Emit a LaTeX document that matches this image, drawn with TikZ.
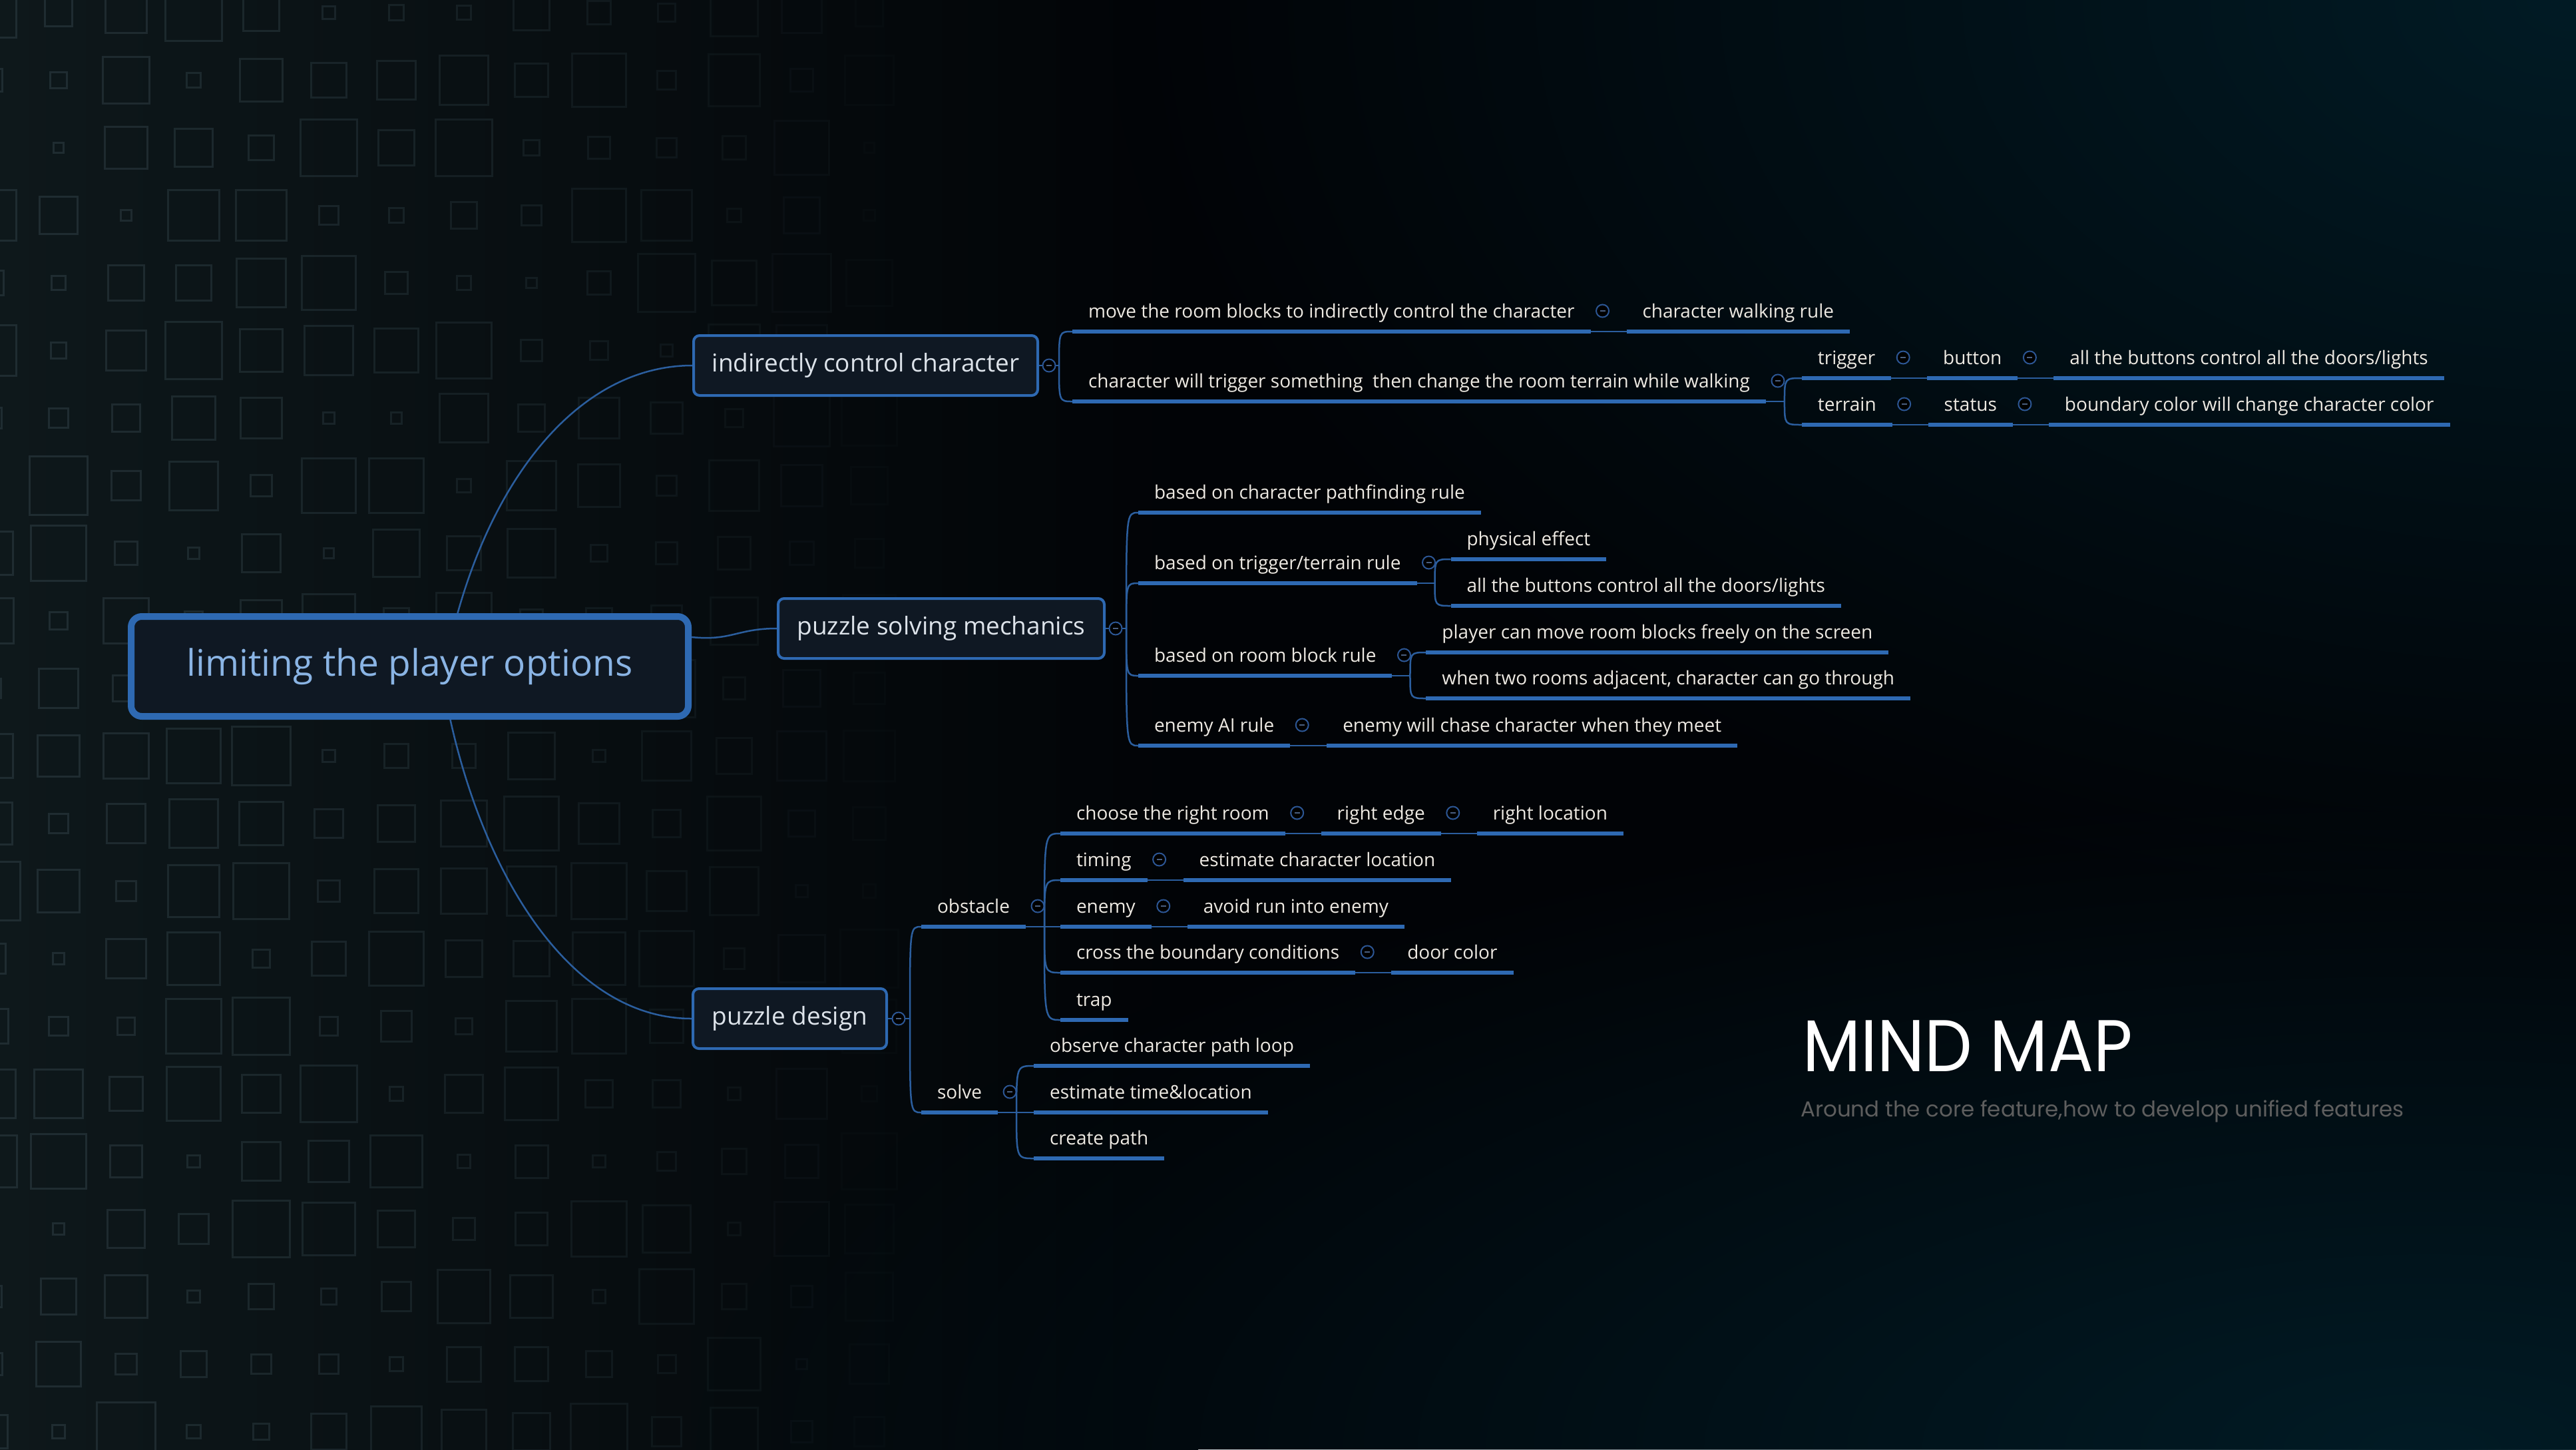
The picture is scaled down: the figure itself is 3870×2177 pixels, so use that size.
\documentclass[tikz,border=0pt]{standalone}
\usepackage{fontspec}
\usepackage{graphicx}
\setmainfont{Open Sans}
\newfontfamily\titlefont{Poppins}
\usetikzlibrary{calc,fadings}
\tikzfading[name=glowfade, inner color=transparent!0, outer color=transparent!100]
\definecolor{bgbase}{HTML}{010306}
\definecolor{bgleft}{HTML}{0E181B}
\definecolor{glowc}{HTML}{011B25}
\definecolor{sqc}{HTML}{1F2C31}
\definecolor{ublue}{HTML}{2E69B2}
\definecolor{connc}{HTML}{2B5E9E}
\definecolor{boxfill}{HTML}{0F1823}
\definecolor{roottext}{HTML}{8AB4E4}
\definecolor{lonetext}{HTML}{DDE3EA}
\definecolor{labelc}{HTML}{EDE9E2}
\definecolor{togc}{HTML}{2C5694}
\definecolor{togm}{HTML}{4A5F80}
\definecolor{subgrey}{HTML}{5E5E5E}
\pgfdeclarelayer{background}
\pgfdeclarelayer{lines}
\pgfsetlayers{background,lines,main}
\newcommand\itfont{\fontsize{28}{34}\selectfont}
\newcommand\lonefont{\fontsize{37}{44}\selectfont}
\newcommand\rootfont{\fontsize{55}{64}\selectfont}
\begin{document}
\begin{tikzpicture}[x=1pt,y=-1pt,
  root/.style={draw=ublue, line width=10pt, fill=boxfill, rounded corners=16pt,
    minimum width=837pt, minimum height=150pt, text=roottext, font=\rootfont, inner sep=0pt},
  lone/.style={draw=ublue, line width=4pt, fill=boxfill, rounded corners=9pt,
    minimum height=90pt, text=lonetext, font=\lonefont, inner sep=0pt},
  itm/.style={font=\itfont, text=labelc, inner xsep=24pt, inner ysep=0pt,
    text height=22pt, text depth=21pt, outer sep=0pt, anchor=south west},
  ul/.style={draw=ublue, line width=6pt},
  conn/.style={draw=connc, line width=2.5pt},
  tog/.style={circle, draw=togc, line width=2pt, fill=black, minimum size=19pt, inner sep=0pt,
    path picture={\draw[togm, line width=2.5pt] ([xshift=-4pt]path picture bounding box.center) -- ([xshift=4pt]path picture bounding box.center);}},
  sq/.style={draw=sqc, line width=3pt}
]
\useasboundingbox (0,0) rectangle (3870,2177);
% ---------- background ----------
\begin{pgfonlayer}{background}
\fill[bgbase] (0,0) rectangle (3870,2177);
\shade[left color=bgleft, right color=bgbase] (0,0) rectangle (1800,2177);
\fill[glowc, path fading=glowfade] (3870,0) ellipse [x radius=2200pt, y radius=1400pt];
\fill[glowc, path fading=glowfade] (3650,2177) ellipse [x radius=2600pt, y radius=1000pt];
\pgfmathsetseed{17}
\foreach \j in {0,...,21}{
  \foreach \k in {-1,...,14}{
    \pgfmathsetmacro\s{14+74*rnd}
    \pgfmathsetmacro\cx{88+101.5*\k}
    \pgfmathsetmacro\cy{19+101.5*\j}
    \pgfmathsetmacro\op{max(0,min(1,1.1-\cx/1300))}
    \draw[sq, draw opacity=\op] ({\cx-\s/2},{\cy-\s/2}) rectangle ({\cx+\s/2},{\cy+\s/2});
  }
}
\end{pgfonlayer}
% ---------- main boxes ----------
\node[root] (root) at (615.5,1001) {limiting the player options};
\node[lone, minimum width=517pt] (icc) at (1300.5,549) {indirectly control character};
\node[lone, minimum width=490pt] (psm) at (1414,944) {puzzle solving mechanics};
\node[lone, minimum width=291pt] (pd) at (1186.5,1530) {puzzle design};
% ---------- branch: indirectly control character ----------
\node[itm] (a1) at (1611,498) {move the room blocks to indirectly control the character};
\node[itm] (a1b) at ([xshift=54pt]a1.south east) {character walking rule};
\node[itm] (a2) at (1611,603) {character will trigger something\ \ then change the room terrain while walking};
\node[itm] (b1) at ([xshift=54pt,yshift=35pt]a2.south east) {trigger};
\node[itm] (b1b) at ([xshift=54pt]b1.south east) {button};
\node[itm] (b1c) at ([xshift=54pt]b1b.south east) {all the buttons control all the doors/lights};
\node[itm] (b2) at ([xshift=54pt,yshift=-35pt]a2.south east) {terrain};
\node[itm] (b2b) at ([xshift=54pt]b2.south east) {status};
\node[itm] (b2c) at ([xshift=54pt]b2b.south east) {boundary color will change character color};
% ---------- branch: puzzle solving mechanics ----------
\node[itm] (c1) at (1710,770) {based on character pathfinding rule};
\node[itm] (c2) at (1710,876) {based on trigger/terrain rule};
\node[itm] (d1) at ([xshift=51pt,yshift=36pt]c2.south east) {physical effect};
\node[itm] (d2) at ([xshift=51pt,yshift=-34pt]c2.south east) {all the buttons control all the doors/lights};
\node[itm] (c3) at (1710,1015) {based on room block rule};
\node[itm] (e1) at ([xshift=51pt,yshift=35pt]c3.south east) {player can move room blocks freely on the screen};
\node[itm] (e2) at ([xshift=51pt,yshift=-34pt]c3.south east) {when two rooms adjacent, character can go through};
\node[itm] (c4) at (1710,1120) {enemy AI rule};
\node[itm] (c4b) at ([xshift=55pt]c4.south east) {enemy will chase character when they meet};
% ---------- branch: puzzle design ----------
\node[itm] (f1) at (1384,1392) {obstacle};
\node[itm] (g1) at ([xshift=52pt,yshift=140pt]f1.south east) {choose the right room};
\node[itm] (g1b) at ([xshift=54pt]g1.south east) {right edge};
\node[itm] (g1c) at ([xshift=54pt]g1b.south east) {right location};
\node[itm] (g2) at ([xshift=52pt,yshift=70pt]f1.south east) {timing};
\node[itm] (g2b) at ([xshift=54pt]g2.south east) {estimate character location};
\node[itm] (g3) at ([xshift=52pt]f1.south east) {enemy};
\node[itm] (g3b) at ([xshift=54pt]g3.south east) {avoid run into enemy};
\node[itm] (g4) at ([xshift=52pt,yshift=-69pt]f1.south east) {cross the boundary conditions};
\node[itm] (g4b) at ([xshift=54pt]g4.south east) {door color};
\node[itm] (g5) at ([xshift=52pt,yshift=-140pt]f1.south east) {trap};
\node[itm] (f2) at (1384,1671) {solve};
\node[itm] (h1) at ([xshift=54pt,yshift=70pt]f2.south east) {observe character path loop};
\node[itm] (h2) at ([xshift=54pt]f2.south east) {estimate time\&location};
\node[itm] (h3) at ([xshift=54pt,yshift=-69pt]f2.south east) {create path};
% underlines
\foreach \n in {a1,a1b,a2,b1,b1b,b1c,b2,b2b,b2c,c1,c2,d1,d2,c3,e1,e2,c4,c4b,f1,g1,g1b,g1c,g2,g2b,g3,g3b,g4,g4b,g5,f2,h1,h2,h3}
  \draw[ul] (\n.south west) -- (\n.south east);
% ---------- connectors ----------
\begin{pgfonlayer}{lines}
\draw[conn] ($(root.north west)!0.585!(root.north east)$) .. controls +(62,-221) and +(-160,0) .. (icc.west);
\draw[conn] ([yshift=44pt]root.east) .. controls +(60,6) and +(-60,0) .. (psm.west);
\draw[conn] ($(root.south west)!0.572!(root.south east)$) .. controls +(53,239) and +(-180,0) .. (pd.west);
% box braces
\draw[conn] (icc.east) -- ++(30,0) coordinate (icj);
\foreach \c in {a1,a2} \draw[conn] (icj) .. controls (icj |- \c.south west) .. (\c.south west);
\draw[conn] (psm.east) -- ++(31,0) coordinate (psj);
\foreach \c in {c1,c2,c3,c4} \draw[conn] (psj) .. controls (psj |- \c.south west) .. (\c.south west);
\draw[conn] (pd.east) -- ++(33,0) coordinate (pdj);
\foreach \c in {f1,f2} \draw[conn] (pdj) .. controls (pdj |- \c.south west) .. (\c.south west);
% item braces
\draw[conn] (a2.south east) -- ++(28,0) coordinate (ja2);
\foreach \c in {b1,b2} \draw[conn] (ja2) .. controls (ja2 |- \c.south west) .. (\c.south west);
\draw[conn] (c2.south east) -- ++(27,0) coordinate (jc2);
\foreach \c in {d1,d2} \draw[conn] (jc2) .. controls (jc2 |- \c.south west) .. (\c.south west);
\draw[conn] (c3.south east) -- ++(27,0) coordinate (jc3);
\foreach \c in {e1,e2} \draw[conn] (jc3) .. controls (jc3 |- \c.south west) .. (\c.south west);
\draw[conn] (f1.south east) -- ++(28,0) coordinate (jf1);
\foreach \c in {g1,g2,g3,g4,g5} \draw[conn] (jf1) .. controls (jf1 |- \c.south west) .. (\c.south west);
\draw[conn] (f2.south east) -- ++(28,0) coordinate (jf2);
\foreach \c in {h1,h2,h3} \draw[conn] (jf2) .. controls (jf2 |- \c.south west) .. (\c.south west);
% chains
\draw[conn] (a1.south east) -- (a1b.south west);
\draw[conn] (b1.south east) -- (b1b.south west);
\draw[conn] (b1b.south east) -- (b1c.south west);
\draw[conn] (b2.south east) -- (b2b.south west);
\draw[conn] (b2b.south east) -- (b2c.south west);
\draw[conn] (c4.south east) -- (c4b.south west);
\draw[conn] (g1.south east) -- (g1b.south west);
\draw[conn] (g1b.south east) -- (g1c.south west);
\draw[conn] (g2.south east) -- (g2b.south west);
\draw[conn] (g3.south east) -- (g3b.south west);
\draw[conn] (g4.south east) -- (g4b.south west);
\end{pgfonlayer}
% ---------- toggles ----------
\node[tog] (ticc) at ([xshift=15pt]icc.east) {};
\node[tog] (tpsm) at ([xshift=15pt]psm.east) {};
\node[tog] (tpd) at ([xshift=16pt]pd.east) {};
\foreach \n in {a1,a2,b1,b1b,b2,b2b,c2,c3,c4,f1,f2,g1,g1b,g2,g3,g4}
  \node[tog] (t\n) at ([xshift=18pt,yshift=31pt]\n.south east) {};
% ---------- title ----------
\node[anchor=base west, inner sep=0pt, text=white, font=\titlefont\fontsize{110}{110}\selectfont] (title) at (2708,1609) {\scalebox{0.92}[1]{MIND MAP}};
\node[anchor=base west, inner sep=0pt, text=subgrey, font=\titlefont\fontsize{32.5}{33}\selectfont] (subtitle) at (2705,1677) {Around the core feature,how to develop unified features};
\end{tikzpicture}
\end{document}
